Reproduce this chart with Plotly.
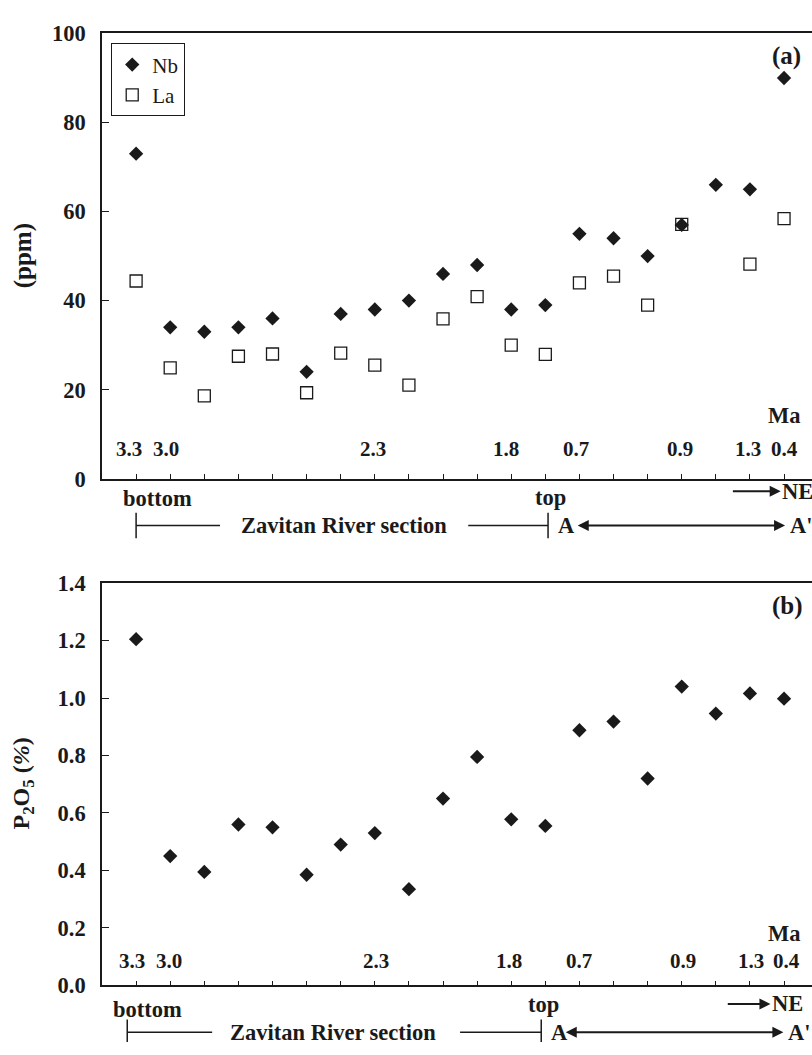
import plotly.graph_objects as go
from plotly.subplots import make_subplots

# ---------------- data ----------------
sample_idx = list(range(20))
nb_ppm = [73, 34, 33, 34, 36, 24, 37, 38, 40, 46, 48, 38, 39, 55, 54, 50, 57, 66, 65, 90]
la_ppm = [44.4, 24.9, 18.6, 27.5, 28.0, 19.3, 28.2, 25.5, 21.0, 35.9, 40.9, 30.0, 27.9,
          44.0, 45.5, 39.0, 57.1, None, 48.2, 58.4]
p2o5_pct = [1.205, 0.45, 0.395, 0.56, 0.55, 0.385, 0.49, 0.53, 0.335, 0.65, 0.795, 0.578,
            0.555, 0.888, 0.918, 0.72, 1.04, 0.946, 1.016, 0.998]
age_labels = ["3.3", "3.0", "2.3", "1.8", "0.7", "0.9", "1.3", "0.4"]
ppm_ticks = [0, 20, 40, 60, 80, 100]
p2o5_ticks = [0.0, 0.2, 0.4, 0.6, 0.8, 1.0, 1.2, 1.4]

# ---------------- layout helpers ----------------
W, H = 812, 1055
FONT = "Liberation Serif"
INK = "#1a1a1a"
FS = 22.5
age_pos = [-0.2, 0.88, 6.95, 10.85, 12.9, 15.95, 17.95, 19.0]


def py(px):
    return 1 - px / H


fig = make_subplots(rows=2, cols=1)

fig.add_trace(go.Scatter(x=sample_idx, y=nb_ppm, mode="markers", name="Nb",
                         marker=dict(symbol="diamond", size=11, color=INK)), row=1, col=1)
fig.add_trace(go.Scatter(x=sample_idx, y=la_ppm, mode="markers", name="La",
                         marker=dict(symbol="square-open", size=12, color=INK,
                                     line=dict(width=1.3, color=INK))), row=1, col=1)
fig.add_trace(go.Scatter(x=sample_idx, y=p2o5_pct, mode="markers", name="P2O5",
                         showlegend=False,
                         marker=dict(symbol="diamond", size=11, color=INK)), row=2, col=1)

xcommon = dict(range=[-1, 19.82], tickvals=sample_idx, showticklabels=False,
               ticks="inside", ticklen=5, tickwidth=1.3, tickcolor=INK,
               showline=True, linecolor=INK, linewidth=1.6, mirror=True,
               showgrid=False, zeroline=False)
fig.update_xaxes(**xcommon, domain=[0, 1])

ycommon = dict(ticks="inside", ticklen=7, tickwidth=1.3, tickcolor=INK,
               showline=True, linecolor=INK, linewidth=1.6, mirror=False,
               showgrid=False, zeroline=False, ticklabelstandoff=10,
               tickfont=dict(family=FONT, size=FS, color=INK, weight="bold"))
fig.update_yaxes(**ycommon, range=[0, 100], tickvals=ppm_ticks,
                 domain=[py(478), py(22)], row=1, col=1)
fig.update_yaxes(**ycommon, range=[0, 1.4], tickvals=p2o5_ticks, tickformat=".1f",
                 domain=[py(997), py(585)], row=2, col=1)

ann = []
shapes = []


def bfont(size=FS):
    return dict(family=FONT, size=size, color=INK, weight="bold")


def label(x, y, text, xref="x", yref="paper", xanchor="center", size=FS, **kw):
    ann.append(dict(x=x, y=y, xref=xref, yref=yref, text=text, showarrow=False,
                    xanchor=xanchor, yanchor="middle", font=bfont(size), **kw))


# age labels + Ma
for lab, xp in zip(age_labels, age_pos):
    label(xp, 6.6, lab, xref="x", yref="y", size=21)
    label(xp + 0.08, 0.085, lab, xref="x2", yref="y2", size=21)
label(19.0, 14.2, "Ma", xref="x", yref="y")
label(19.0, 0.18, "Ma", xref="x2", yref="y2")

# panel labels
label(19.06, py(45), "(a)", size=25)
label(19.09, py(608), "(b)", size=25)

# y titles
label(-0.111, py(250), "(ppm)", xref="paper", textangle=-90, size=25)
label(-0.111, py(790), "P<sub>2</sub>O<sub>5</sub> (<i>%</i>)", xref="paper",
      textangle=-90, size=24)


def section_block(bottom_x, bottom_y, top_x, top_y, ne_tail, ne_text, ne_y,
                  bar_l, line1_end, text_x, line2_start, bar_r, a_x, arr_l, a2_text,
                  line_y, bar_top, bar_bot):
    label(bottom_x, py(bottom_y), "bottom")
    label(top_x, py(top_y), "top")
    # arrow pointing to the NE label (arrowhead drawn at the label end)
    ann.append(dict(x=ne_tail, y=py(ne_y), xref="x", yref="paper", ax=ne_text, ay=0,
                    axref="x", ayref="pixel", text="NE", font=bfont(), showarrow=True,
                    arrowside="start", startarrowhead=2, startarrowsize=1.1,
                    arrowwidth=2, arrowcolor=INK, borderpad=0, startstandoff=1))
    # Zavitan River section line
    for x0, x1 in [(bar_l, line1_end), (line2_start, bar_r)]:
        shapes.append(dict(type="line", xref="x", yref="paper", x0=x0, x1=x1,
                           y0=py(line_y), y1=py(line_y), line=dict(color=INK, width=1.5)))
    for xb in [bar_l, bar_r]:
        shapes.append(dict(type="line", xref="x", yref="paper", x0=xb, x1=xb,
                           y0=py(bar_top), y1=py(bar_bot), line=dict(color=INK, width=1.5)))
    label(text_x, py(line_y), "Zavitan River section")
    label(a_x, py(line_y), "A", xanchor="left")
    # double arrow A <-> A'
    ann.append(dict(x=arr_l, y=py(line_y), xref="x", yref="paper", ax=a2_text, ay=0,
                    axref="x", ayref="pixel", text="A'", font=bfont(), showarrow=True,
                    arrowside="end+start", arrowhead=2, startarrowhead=2,
                    arrowsize=1.1, startarrowsize=1.1, arrowwidth=2, arrowcolor=INK,
                    borderpad=0, startstandoff=4))


section_block(0.62, 498, 12.14, 497, 17.5, 19.4, 491,
              0.0, 2.46, 6.1, 9.74, 12.08, 12.3, 12.95, 19.5,
              526, 513, 539)
section_block(0.32, 1022, 11.96, 1017, 17.35, 19.1, 1016,
              -0.26, 2.23, 5.78, 9.5, 11.88, 12.1, 12.6, 19.45,
              1045, 1032, 1055)

fig.update_layout(
    width=W, height=H,
    margin=dict(l=102, r=0, t=0, b=0),
    paper_bgcolor="white", plot_bgcolor="white",
    font=dict(family=FONT, size=FS, color=INK),
    showlegend=True,
    legend=dict(x=0.0127, y=py(32), xanchor="left", yanchor="top",
                bordercolor=INK, borderwidth=1.2, bgcolor="white",
                font=dict(family=FONT, size=21, color=INK),
                itemwidth=30, tracegroupgap=0),
    annotations=ann, shapes=shapes,
)

fig.write_html("out.html")
